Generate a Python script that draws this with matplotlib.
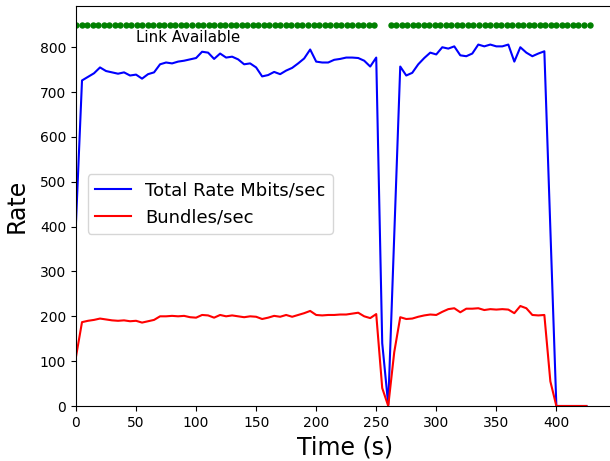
import numpy as np
import matplotlib
matplotlib.use("Agg")
import matplotlib.pyplot as plt

# sample times (s), one every 5 s
time_s = np.arange(0, 430, 5)

total_rate = [410, 726, 734, 742, 755, 747, 744, 741, 744, 737,
              739, 730, 740, 744, 762, 766, 764, 768, 770, 773,
              776, 790, 788, 774, 786, 777, 779, 773, 762, 764,
              755, 735, 738, 745, 740, 748, 754, 764, 775, 795,
              768, 766, 766, 772, 774, 777, 777, 776, 770, 757,
              777, 140, 3, 380, 757, 737, 743, 762, 776, 788,
              784, 800, 797, 802, 782, 780, 786, 806, 802, 806,
              802, 802, 806, 768, 800, 788, 780, 786, 791, 395,
              0, 0, 0, 0, 0, 0]

bundles = [110, 187, 190, 192, 195, 193, 191, 190, 191, 189,
           190, 186, 189, 192, 200, 200, 201, 200, 201, 198,
           197, 203, 202, 197, 203, 200, 202, 200, 198, 200,
           199, 194, 197, 201, 199, 203, 199, 203, 207, 212,
           203, 202, 203, 203, 204, 204, 206, 208, 200, 196,
           205, 40, 0, 120, 198, 194, 195, 199, 202, 204,
           203, 210, 216, 218, 209, 217, 217, 218, 214, 216,
           215, 216, 215, 207, 223, 218, 203, 202, 203, 55,
           0, 0, 0, 0, 0, 0]

# link status samples (s) when the link was up
link_times = np.concatenate([np.arange(0, 251, 4.6), np.arange(262, 429, 4.6)])
link_level = 850

fig = plt.figure(figsize=(6.1, 4.61), dpi=100)
ax = fig.add_axes([76 / 610, 55 / 461, 538 / 610, 400 / 461])

ax.plot(time_s, total_rate, color="blue", label="Total Rate Mbits/sec")
ax.plot(time_s, bundles, color="red", label="Bundles/sec")
ax.plot(link_times, np.full(len(link_times), link_level), "o",
        color="green", markersize=3.6)
ax.text(50, 822, "Link Available", fontsize=10.8, va="center")

ax.set_xlim(0, 448)
ax.set_ylim(0, 892)
ax.set_xlabel("Time (s)", fontsize=17)
ax.set_ylabel("Rate", fontsize=17, labelpad=8)
ax.legend(loc="center left", fontsize=13, bbox_to_anchor=(0.005, 0.505))

fig.savefig("out.png", dpi=100)
